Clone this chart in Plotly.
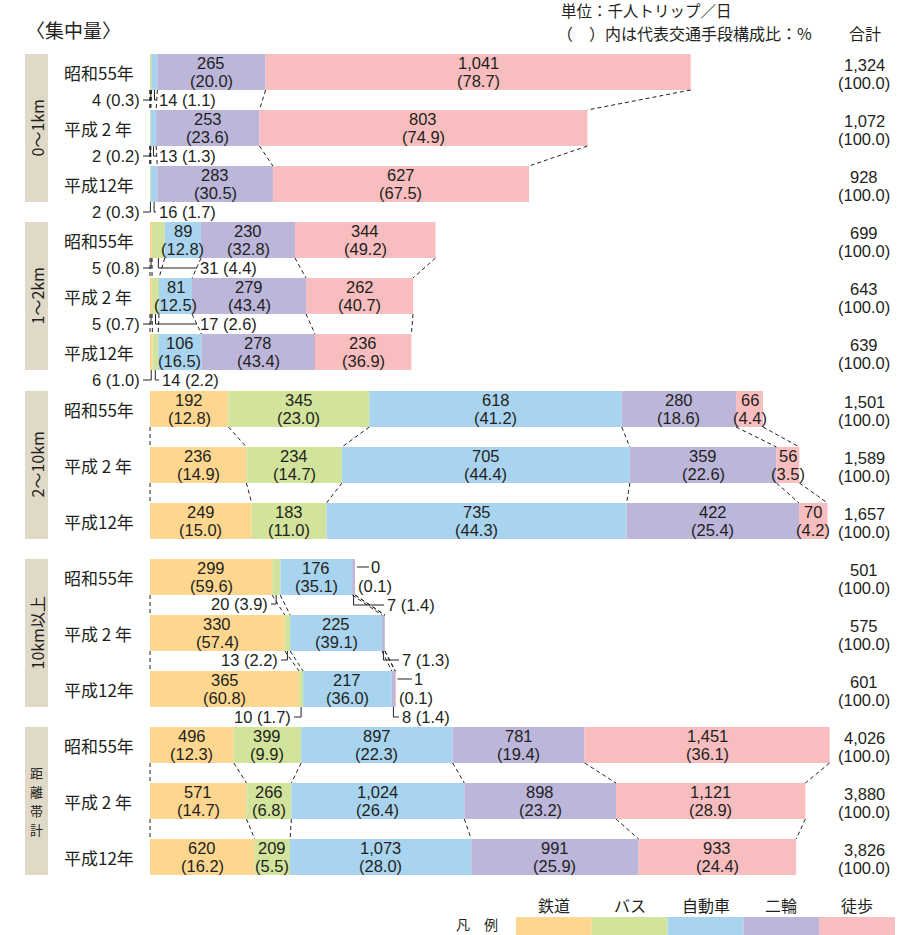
import plotly.graph_objects as go

# ---------------- data ----------------
YEARS = ["昭和55年", "平成 2 年", "平成12年"]
GROUPS = ["0〜1km", "1〜2km", "2〜10km", "10km以上", "距離帯計"]
MODES = ["鉄道", "バス", "自動車", "二輪", "徒歩"]

# values [group][year]  (None = not shown)
RAIL = [[None, None, None], [5, 5, 6], [192, 236, 249], [299, 330, 365], [496, 571, 620]]
RAIL_PCT = [[None, None, None], [0.8, 0.7, 1.0], [12.8, 14.9, 15.0], [59.6, 57.4, 60.8], [12.3, 14.7, 16.2]]
BUS = [[4, 2, 2], [31, 17, 14], [345, 234, 183], [20, 13, 10], [399, 266, 209]]
BUS_PCT = [[0.3, 0.2, 0.3], [4.4, 2.6, 2.2], [23.0, 14.7, 11.0], [3.9, 2.2, 1.7], [9.9, 6.8, 5.5]]
CAR = [[14, 13, 16], [89, 81, 106], [618, 705, 735], [176, 225, 217], [897, 1024, 1073]]
CAR_PCT = [[1.1, 1.3, 1.7], [12.8, 12.5, 16.5], [41.2, 44.4, 44.3], [35.1, 39.1, 36.0], [22.3, 26.4, 28.0]]
BIKE = [[265, 253, 283], [230, 279, 278], [280, 359, 422], [7, 7, 8], [781, 898, 991]]
BIKE_PCT = [[20.0, 23.6, 30.5], [32.8, 43.4, 43.4], [18.6, 22.6, 25.4], [1.4, 1.3, 1.4], [19.4, 23.2, 25.9]]
WALK = [[1041, 803, 627], [344, 262, 236], [66, 56, 70], [0, None, 1], [1451, 1121, 933]]
WALK_PCT = [[78.7, 74.9, 67.5], [49.2, 40.7, 36.9], [4.4, 3.5, 4.2], [0.1, None, 0.1], [36.1, 28.9, 24.4]]
TOTAL = [[1324, 1072, 928], [699, 643, 639], [1501, 1589, 1657], [501, 575, 601], [4026, 3880, 3826]]
TOTAL_PCT = 100.0

SERIES = [RAIL, BUS, CAR, BIKE, WALK]
SERIES_PCT = [RAIL_PCT, BUS_PCT, CAR_PCT, BIKE_PCT, WALK_PCT]

# ---------------- layout / style ----------------
W, H = 900, 935
X0 = 150
SCALES = [0.4084, 0.4084, 0.4084, 0.4084, 0.1689]
GROUP_TOP = [54, 222, 391, 559, 727]
BAR_H = 36
PITCH = 56
FONT = "Noto Sans CJK JP"
NUMFONT = "Liberation Sans, Arial, sans-serif"
TXT = "#231f20"
COLORS = ["#FDD78F", "#D2E39C", "#A9D4EF", "#BBB6DA", "#F8BDBE"]
BEIGE = "#E0D9C8"
NUM_SIZE = 16.5

# small-value callouts: (group, year, mode, kind, label_x_px, label_y_px, extra)
CALLOUTS = [
    (0, 0, 1, "L", 141, 100, None), (0, 0, 2, "R", 158, 100, None),
    (0, 1, 1, "L", 141, 156, None), (0, 1, 2, "R", 158, 156, None),
    (0, 2, 1, "L", 141, 212, None), (0, 2, 2, "R", 158, 212, None),
    (1, 0, 0, "L", 141, 268, None), (1, 0, 1, "R", 199, 268, None),
    (1, 1, 0, "L", 141, 324, None), (1, 1, 1, "R", 199, 324, None),
    (1, 2, 0, "L", 141, 380, None), (1, 2, 1, "R", 161, 380, None),
    (3, 0, 1, "L", 269, 604, None), (3, 0, 3, "R", 386, 605, None),
    (3, 0, 4, "E", 370, 567, (357, 586)),
    (3, 1, 1, "L", 279, 660, None), (3, 1, 3, "R", 401, 660, None),
    (3, 2, 1, "L", 292, 717, None), (3, 2, 3, "R", 401, 717, None),
    (3, 2, 4, "E", 413, 679, (398, 698)),
]
CALLOUT_KEYS = {(c[0], c[1], c[2]) for c in CALLOUTS}


def bar_top(g, i):
    return GROUP_TOP[g] + PITCH * i


def center(g, i):
    return bar_top(g, i) + BAR_H / 2


def cums(g, i):
    c = [0]
    for s in SERIES:
        c.append(c[-1] + (s[g][i] or 0))
    return c


def px(g, v):
    return X0 + v * SCALES[g]


def fmt(v):
    return f"{v:,}"


def fp(p):
    return f"({p:.1f})"


fig = go.Figure()

# bars
for m in range(5):
    for axis, groups in (("x", [0, 1, 2, 3]), ("x2", [4])):
        ys, xs, bs = [], [], []
        for g in groups:
            for i in range(3):
                v = SERIES[m][g][i]
                if not v:
                    continue
                ys.append(center(g, i))
                xs.append(v)
                bs.append(cums(g, i)[m])
        fig.add_trace(go.Bar(orientation="h", y=ys, x=xs, base=bs, width=BAR_H,
                             marker=dict(color=COLORS[m], line=dict(width=0)),
                             xaxis=axis, yaxis="y", hoverinfo="skip", showlegend=False))

# dashed connectors between bars
for axis, groups in (("x", [0, 1, 2, 3]), ("x2", [4])):
    lx, ly = [], []
    for g in groups:
        for i in range(2):
            c0, c1 = cums(g, i), cums(g, i + 1)
            for k in range(6):
                lx += [c0[k], c1[k], None]
                ly += [bar_top(g, i) + BAR_H, bar_top(g, i + 1), None]
    fig.add_trace(go.Scatter(x=lx, y=ly, mode="lines", xaxis=axis, yaxis="y",
                             line=dict(color="#222", width=1, dash="4px,3px"),
                             hoverinfo="skip", showlegend=False))

ann = []


def A(x, y, text, size=16, xanchor="center", family=FONT, **kw):
    ann.append(dict(x=x, y=y, xref="x3", yref="y", text=text, showarrow=False,
                    xanchor=xanchor, yanchor="middle", borderpad=0,
                    font=dict(family=family, size=size, color=TXT), **kw))


def N(x, y, text, xanchor="center", size=NUM_SIZE):
    A(x, y, text, size=size, xanchor=xanchor, family=NUMFONT)


# labels inside bars, totals, years
for g in range(5):
    for i in range(3):
        c = cums(g, i)
        cy = center(g, i)
        for m in range(5):
            v = SERIES[m][g][i]
            if v is None or (g, i, m) in CALLOUT_KEYS:
                continue
            xm = px(g, c[m] + v / 2)
            N(xm, cy - 9.3, fmt(v))
            N(xm, cy + 9.3, fp(SERIES_PCT[m][g][i]))
        N(864, cy - 7.5, fmt(TOTAL[g][i]))
        N(864, cy + 11, fp(TOTAL_PCT))
        A(63, cy, YEARS[i], size=17, xanchor="left")

# callouts with leader lines
llx, lly = [], []
for g, i, m, kind, lx, ly, extra in CALLOUTS:
    v = SERIES[m][g][i]
    p = SERIES_PCT[m][g][i]
    c = cums(g, i)
    mid = px(g, c[m] + v / 2)
    bot = bar_top(g, i) + BAR_H
    if kind == "L":
        N(lx, ly, f"{v} {fp(p)}", xanchor="right")
        llx += [lx + 2, mid, mid, None]
        lly += [ly, ly, bot, None]
    elif kind == "R":
        N(lx, ly, f"{v} {fp(p)}", xanchor="left")
        llx += [mid, mid, lx - 2, None]
        lly += [bot, ly, ly, None]
    else:
        end = px(g, c[5])
        N(lx, ly, fmt(v), xanchor="left")
        N(extra[0], extra[1], fp(p), xanchor="left")
        llx += [end + 2, lx - 1, None]
        lly += [ly, ly, None]
fig.add_trace(go.Scatter(x=llx, y=lly, mode="lines", xaxis="x3", yaxis="y",
                         line=dict(color="#222", width=1), hoverinfo="skip", showlegend=False))

shapes = []
# beige group boxes and group labels
for g in range(5):
    t = GROUP_TOP[g]
    shapes.append(dict(type="rect", xref="x3", yref="y", x0=25, x1=48, y0=t, y1=t + 2 * PITCH + BAR_H,
                       fillcolor=BEIGE, line=dict(width=0), layer="below"))
    cyg = t + (2 * PITCH + BAR_H) / 2
    if g < 4:
        A(36.5, cyg, GROUPS[g], size=16, textangle=-90)
    else:
        chars = list(GROUPS[g])
        for k, ch in enumerate(chars):
            A(36.5, cyg + (k - (len(chars) - 1) / 2) * 19, ch, size=13)

# header texts
A(25, 29, "〈集中量〉", size=19, xanchor="left")
A(560, 9.5, "単位：千人トリップ／日", size=15.5, xanchor="left")
A(556, 32.5, "（　）内は代表交通手段構成比：%", size=16, xanchor="left")
A(865, 32.5, "合計", size=16)

# legend
LEG_X0, LEG_W = 516, 75.8
for m in range(5):
    shapes.append(dict(type="rect", xref="x3", yref="y", x0=LEG_X0 + m * LEG_W, x1=LEG_X0 + (m + 1) * LEG_W,
                       y0=917, y1=936, fillcolor=COLORS[m], line=dict(width=0)))
    A(LEG_X0 + (m + 0.5) * LEG_W, 905, MODES[m], size=16)
A(455, 924, "凡　例", size=14, xanchor="left")

fig.update_layout(
    width=W, height=H, margin=dict(l=0, r=0, t=0, b=0, pad=0),
    paper_bgcolor="white", plot_bgcolor="white", barmode="overlay",
    xaxis=dict(domain=[0, 1], range=[-X0 / SCALES[0], (W - X0) / SCALES[0]], visible=False, fixedrange=True),
    xaxis2=dict(domain=[0, 1], range=[-X0 / SCALES[4], (W - X0) / SCALES[4]], visible=False,
                overlaying="x", anchor="y", fixedrange=True),
    xaxis3=dict(domain=[0, 1], range=[0, W], visible=False, overlaying="x", anchor="y", fixedrange=True),
    yaxis=dict(domain=[0, 1], range=[H, 0], visible=False, fixedrange=True),
    annotations=ann, shapes=shapes, showlegend=False,
)

fig.write_html("out.html")
